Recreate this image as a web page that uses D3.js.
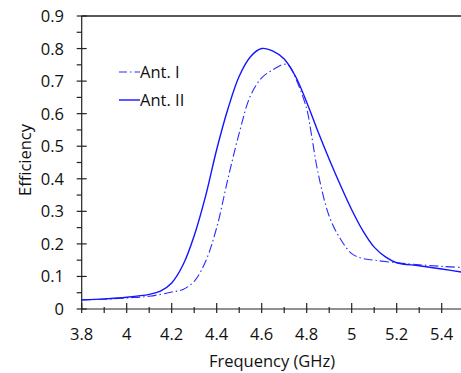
<!DOCTYPE html>
<html>
<head>
  <meta charset="utf-8">
  <title>Efficiency</title>
  <script src="https://d3js.org/d3.v7.min.js"></script>
  <style>
    body { margin: 0; overflow: hidden; background: #fff; }
    svg { display: block; }
    text { font-family: "Open Sans", "Noto Sans", sans-serif; fill: #111; }
  </style>
</head>
<body>
  <svg width="461" height="373"></svg>

  <script>
    // 数据
    const freq1 = [3.8, 3.9, 4.0, 4.1, 4.2, 4.25, 4.3, 4.35, 4.4, 4.45, 4.5, 4.55, 4.6, 4.65, 4.7, 4.72,
                   4.75, 4.8, 4.82, 4.85, 4.9, 4.95, 5.0, 5.05, 5.1, 5.2, 5.3, 5.4, 5.5];
    const ant1 = [0.028, 0.030, 0.034, 0.039, 0.052, 0.060, 0.085, 0.145, 0.25, 0.40, 0.54, 0.655, 0.71, 0.735, 0.752, 0.748,
                  0.71, 0.615, 0.54, 0.42, 0.285, 0.215, 0.17, 0.155, 0.150, 0.142, 0.136, 0.131, 0.127];

    const freq2 = [3.8, 3.9, 4.0, 4.1, 4.15, 4.2, 4.25, 4.3, 4.35, 4.4, 4.45, 4.5, 4.55, 4.6, 4.65, 4.7,
                   4.75, 4.8, 4.85, 4.9, 4.95, 5.0, 5.05, 5.1, 5.15, 5.2, 5.3, 5.4, 5.5];
    const ant2 = [0.028, 0.031, 0.036, 0.045, 0.055, 0.080, 0.135, 0.225, 0.345, 0.49, 0.615, 0.715, 0.775, 0.800, 0.792, 0.768,
                  0.715, 0.635, 0.545, 0.46, 0.38, 0.305, 0.24, 0.19, 0.16, 0.142, 0.133, 0.123, 0.112];

    const xTicks = [3.8, 4, 4.2, 4.4, 4.6, 4.8, 5, 5.2, 5.4];
    const yTicks = [0, 0.1, 0.2, 0.3, 0.4, 0.5, 0.6, 0.7, 0.8, 0.9];

    const svg = d3.select("svg");
    const pl = 81.7, pr = 464.2, pt = 16, pb = 309;
    const fs = 16.5;

    const x = d3.scaleLinear().domain([3.8, 5.5]).range([pl, pr]);
    const y = d3.scaleLinear().domain([0, 0.9]).range([pb, pt]);

    // 边框
    svg.append("line").attr("x1", pl).attr("x2", pr).attr("y1", pt).attr("y2", pt)
      .attr("stroke", "#222").attr("stroke-width", 1.5);
    svg.append("line").attr("x1", pl).attr("x2", pr).attr("y1", pb).attr("y2", pb)
      .attr("stroke", "#222").attr("stroke-width", 1.2);
    svg.append("line").attr("x1", pl).attr("x2", pl).attr("y1", pt).attr("y2", pb)
      .attr("stroke", "#222").attr("stroke-width", 1.2);

    // x 刻度
    const xMinor = d3.range(3.9, 5.5, 0.2);
    svg.selectAll(".xmaj").data(xTicks).join("line")
      .attr("x1", d => x(d)).attr("x2", d => x(d))
      .attr("y1", pb - 6).attr("y2", pb + 4)
      .attr("stroke", "#222").attr("stroke-width", 1.2);
    svg.selectAll(".xmin").data(xMinor).join("line")
      .attr("x1", d => x(d)).attr("x2", d => x(d))
      .attr("y1", pb - 2).attr("y2", pb + 4)
      .attr("stroke", "#222").attr("stroke-width", 1.2);
    svg.selectAll(".xlab").data(xTicks).join("text")
      .attr("x", d => x(d)).attr("y", 340)
      .attr("text-anchor", "middle").attr("font-size", fs)
      .text(d => d);

    // y 刻度
    const yMinor = d3.range(0.05, 0.9, 0.1);
    svg.selectAll(".ymaj").data(yTicks).join("line")
      .attr("x1", pl - 5).attr("x2", pl + 5)
      .attr("y1", d => y(d)).attr("y2", d => y(d))
      .attr("stroke", "#222").attr("stroke-width", 1.2);
    svg.selectAll(".ymin").data(yMinor).join("line")
      .attr("x1", pl - 5).attr("x2", pl)
      .attr("y1", d => y(d)).attr("y2", d => y(d))
      .attr("stroke", "#222").attr("stroke-width", 1.2);
    svg.selectAll(".ylab").data(yTicks).join("text")
      .attr("x", 64).attr("y", d => y(d) + 6)
      .attr("text-anchor", "end").attr("font-size", fs)
      .text(d => d);

    // 轴标题
    svg.append("text").attr("x", 272).attr("y", 367)
      .attr("text-anchor", "middle").attr("font-size", fs)
      .text("Frequency (GHz)");
    svg.append("text").attr("transform", "translate(31,160) rotate(-90)")
      .attr("text-anchor", "middle").attr("font-size", fs)
      .text("Efficiency");

    // 曲线
    const line = d3.line().x(d => x(d[0])).y(d => y(d[1])).curve(d3.curveCatmullRom.alpha(0.5));
    svg.append("path")
      .attr("d", line(d3.zip(freq1, ant1)))
      .attr("fill", "none").attr("stroke", "#2a2aff").attr("stroke-width", 1.1)
      .attr("stroke-dasharray", "9,3,1.5,3");
    svg.append("path")
      .attr("d", line(d3.zip(freq2, ant2)))
      .attr("fill", "none").attr("stroke", "#1414ff").attr("stroke-width", 1.4);

    // 图例
    const legend = [
      { name: "Ant. I", dash: "8,3,1.5,3", w: 1.1, c: "#2a2aff", yy: 72 },
      { name: "Ant. II", dash: null, w: 1.4, c: "#1414ff", yy: 100 }
    ];
    legend.forEach(l => {
      svg.append("line").attr("x1", 119).attr("x2", 140).attr("y1", l.yy).attr("y2", l.yy)
        .attr("stroke", l.c).attr("stroke-width", l.w).attr("stroke-dasharray", l.dash);
      svg.append("text").attr("x", 140).attr("y", l.yy + 6)
        .attr("font-size", fs).text(l.name);
    });
  </script>
</body>
</html>
